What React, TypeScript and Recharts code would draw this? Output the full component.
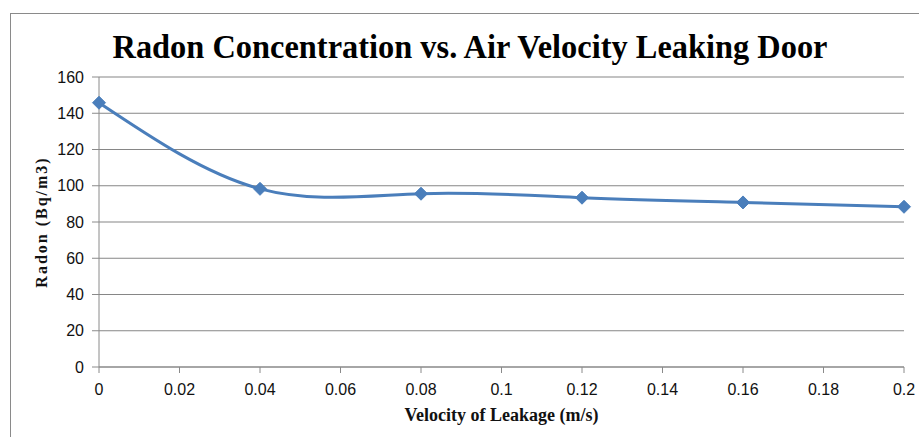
import { LineChart, Line, XAxis, YAxis, CartesianGrid } from 'recharts';

const velocity = [0, 0.04, 0.08, 0.12, 0.16, 0.2];
const radon = [145.8, 98.3, 95.6, 93.4, 90.8, 88.4];
const xTicks = [0, 0.02, 0.04, 0.06, 0.08, 0.1, 0.12, 0.14, 0.16, 0.18, 0.2];
const yTicks = [0, 20, 40, 60, 80, 100, 120, 140, 160];

const data = velocity.map((v, i) => ({ v, radon: radon[i] }));

const Diamond = (props: any) => {
  const { cx, cy } = props;
  if (cx == null || cy == null) return null;
  const r = 6.5;
  return (
    <polygon
      points={`${cx},${cy - r} ${cx + r},${cy} ${cx},${cy + r} ${cx - r},${cy}`}
      fill="#4a7ebb"
      stroke="#4a7ebb"
    />
  );
};

const tickStyle = { fontFamily: 'Liberation Sans', fontSize: 16, fill: '#111' };
const axisTitle = { fontFamily: 'Liberation Serif', fontWeight: 'bold', fill: '#111' };

export default function App() {
  return (
    <div style={{ position: 'absolute', left: 0, top: 0, width: 919, height: 437, background: '#fff' }}>
      <div
        style={{
          position: 'absolute',
          left: 10,
          top: 13,
          width: 909,
          height: 424,
          borderTop: '1.5px solid #8a8a8a',
          borderLeft: '1.5px solid #8a8a8a',
          boxSizing: 'border-box',
        }}
      />
      <svg width={919} height={70} style={{ position: 'absolute', left: 0, top: 0 }}>
        <text
          x={470}
          y={58}
          textAnchor="middle"
          fontFamily="Liberation Serif"
          fontWeight="bold"
          fontSize={33}
          textLength={715}
          lengthAdjust="spacingAndGlyphs"
          fill="#000"
        >
          Radon Concentration vs. Air Velocity Leaking Door
        </text>
      </svg>
      <div style={{ position: 'absolute', left: 0, top: 0 }}>
        <LineChart width={919} height={437} data={data} margin={{ top: 77, right: 15, bottom: 24, left: 39 }}>
          <CartesianGrid vertical={false} stroke="#868686" strokeWidth={1.2} />
          <XAxis
            dataKey="v"
            type="number"
            domain={[0, 0.2]}
            ticks={xTicks}
            interval={0}
            height={46}
            stroke="#8a8a8a"
            tickSize={6}
            tickMargin={11}
            tick={tickStyle}
            label={{
              value: 'Velocity of Leakage (m/s)',
              position: 'insideBottom',
              offset: -8,
              style: { ...axisTitle, fontSize: 18 },
            }}
          />
          <YAxis
            type="number"
            domain={[0, 160]}
            ticks={yTicks}
            interval={0}
            width={60}
            stroke="#8a8a8a"
            tickSize={7}
            tickMargin={8}
            tick={tickStyle}
            label={{
              value: 'Radon (Bq/m3)',
              angle: -90,
              position: 'insideLeft',
              offset: 2,
              style: { ...axisTitle, textAnchor: 'middle', fontSize: 16, letterSpacing: 2 },
            }}
          />
          <Line
            type="natural"
            dataKey="radon"
            stroke="#4a7ebb"
            strokeWidth={3}
            dot={<Diamond />}
            activeDot={false}
            isAnimationActive={false}
          />
        </LineChart>
      </div>
    </div>
  );
}
